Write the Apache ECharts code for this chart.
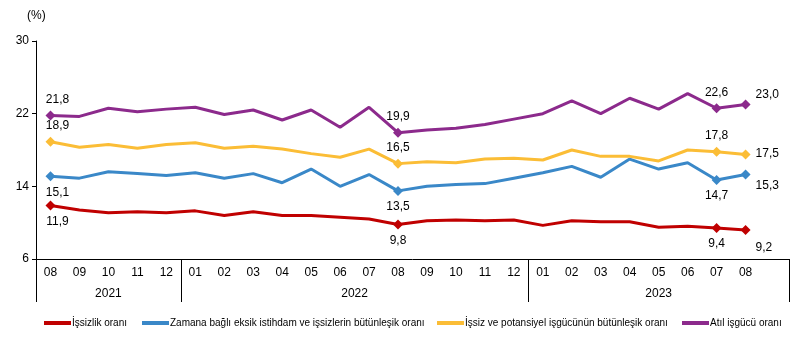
<!DOCTYPE html>
<html><head><meta charset="utf-8">
<script src="https://cdn.jsdelivr.net/npm/echarts@6/dist/echarts.min.js"></script>
<style>html,body{margin:0;padding:0;background:#fff}#c{width:806px;height:348px}</style>
</head><body><div id="c"></div>
<script>
// ---- data ----
const months = ['08','09','10','11','12','01','02','03','04','05','06','07','08','09','10','11','12','01','02','03','04','05','06','07','08',''];
const years = ['2021','2022','2023'];
const yearSpans = [5, 12, 9];
const seriesNames = ['İşsizlik oranı','Zamana bağlı eksik istihdam ve işsizlerin bütünleşik oranı','İşsiz ve potansiyel işgücünün bütünleşik oranı','Atıl işgücü oranı'];
const issizlik   = [11.9,11.4,11.1,11.2,11.1,11.3,10.8,11.2,10.8,10.8,10.6,10.4,9.8,10.2,10.3,10.2,10.3,9.7,10.2,10.1,10.1,9.5,9.6,9.4,9.2];
const zamana     = [15.1,14.9,15.6,15.4,15.2,15.5,14.9,15.4,14.4,15.9,14.0,15.3,13.5,14.0,14.2,14.3,14.9,15.5,16.2,15.0,17.0,15.9,16.6,14.7,15.3];
const potansiyel = [18.9,18.3,18.6,18.2,18.6,18.8,18.2,18.4,18.1,17.6,17.2,18.1,16.5,16.7,16.6,17.0,17.1,16.9,18.0,17.3,17.3,16.8,18.0,17.8,17.5];
const atil       = [21.8,21.7,22.6,22.2,22.5,22.7,21.9,22.4,21.3,22.4,20.5,22.7,19.9,20.2,20.4,20.8,21.4,22.0,23.4,22.0,23.7,22.5,24.2,22.6,23.0];
const labeledIdx = [0, 12, 23, 24];
const yTicks = [6, 14, 22, 30];

// ---- styles ----
const FONT = "'Liberation Sans', Arial, sans-serif";
const colors = ['#C00000', '#3A88C8', '#FBBD36', '#8C2A8C'];
const legendLeft = [44, 142, 437, 682];
const labelCfg = [
  {pos:'bottom', first:[7,0], last:{position:'right', offset:[0,18]}},
  {pos:'bottom', first:[7,0], last:{position:'right', offset:[0,11]}},
  {pos:'top',    first:[7,0], last:{position:'right', offset:[0,-1]}},
  {pos:'top',    first:[7,0], last:{position:'right', offset:[0,-10]}}
];
const fmt = v => v.toFixed(1).replace('.', ',');

function buildData(vals, si) {
  const cfg = labelCfg[si];
  return vals.map((v, i) => {
    const marked = labeledIdx.indexOf(i) >= 0;
    if (!marked) return {value: v, symbol: 'none'};
    const lab = {show: true, position: cfg.pos, distance: 5, formatter: p => fmt(p.value),
                 color: '#000', fontSize: 12, fontFamily: FONT};
    if (i === 0) lab.offset = cfg.first;
    if (i === vals.length - 1) Object.assign(lab, cfg.last);
    return {value: v, symbol: 'diamond', symbolSize: 10, label: lab};
  });
}

const allVals = [issizlik, zamana, potansiyel, atil];
const series = allVals.map((vals, si) => ({
  name: seriesNames[si], type: 'line', xAxisIndex: 0, yAxisIndex: 0,
  data: buildData(vals, si), showAllSymbol: true,
  lineStyle: {width: 3, color: colors[si]}, itemStyle: {color: colors[si]},
  symbol: 'diamond', symbolSize: 10, animation: false, z: 3 + si
}));

const bounds = [0];
yearSpans.forEach(s => bounds.push(bounds[bounds.length - 1] + s));
const centers = yearSpans.map((s, i) => bounds[i] + s / 2);

const grid = {left: 36, right: 17, top: 41, bottom: 89};
const chart = echarts.init(document.getElementById('c'), null, {renderer: 'canvas'});
chart.setOption({
  animation: false,
  textStyle: {fontFamily: FONT},
  title: {text: '(%)', left: 27, top: 10, padding: 0, textStyle: {fontSize: 12, fontWeight: 'normal', color: '#000', fontFamily: FONT}},
  grid: [Object.assign({}, grid), Object.assign({}, grid)],
  xAxis: [
    {type: 'category', gridIndex: 0, data: months, boundaryGap: true,
     axisLine: {show: true, lineStyle: {color: '#000', width: 1}},
     axisTick: {show: false},
     axisLabel: {interval: 0, color: '#000', fontSize: 12, margin: 8, fontFamily: FONT},
     splitLine: {show: false}},
    {type: 'value', gridIndex: 1, min: 0, max: bounds[bounds.length - 1],
     axisLine: {show: false, onZero: false},
     axisTick: {show: true, customValues: bounds, length: 43, lineStyle: {color: '#000', width: 1}},
     axisLabel: {show: true, customValues: centers, margin: 29, color: '#000', fontSize: 12, fontFamily: FONT,
       formatter: v => { const k = centers.indexOf(v); return k >= 0 ? years[k] : ''; }},
     splitLine: {show: false}}
  ],
  yAxis: [
    {type: 'value', gridIndex: 0, min: yTicks[0], max: yTicks[yTicks.length - 1], interval: yTicks[1] - yTicks[0],
     axisLine: {show: true, lineStyle: {color: '#000', width: 1}},
     axisTick: {show: true, length: 4, lineStyle: {color: '#000'}},
     axisLabel: {color: '#000', fontSize: 12, margin: 7, fontFamily: FONT},
     splitLine: {show: false}},
    {type: 'value', gridIndex: 1, min: 0, max: 1, show: false}
  ],
  legend: seriesNames.map((n, i) => ({
    data: [n], left: legendLeft[i], top: 318, padding: 0, itemWidth: 27, itemHeight: 4, icon: 'rect',
    itemStyle: {color: colors[i]}, selectedMode: false,
    textStyle: {fontSize: 10, color: '#000', fontFamily: FONT, padding: [0, 0, 0, -4]}
  })),
  series: series
});
</script></body></html>
